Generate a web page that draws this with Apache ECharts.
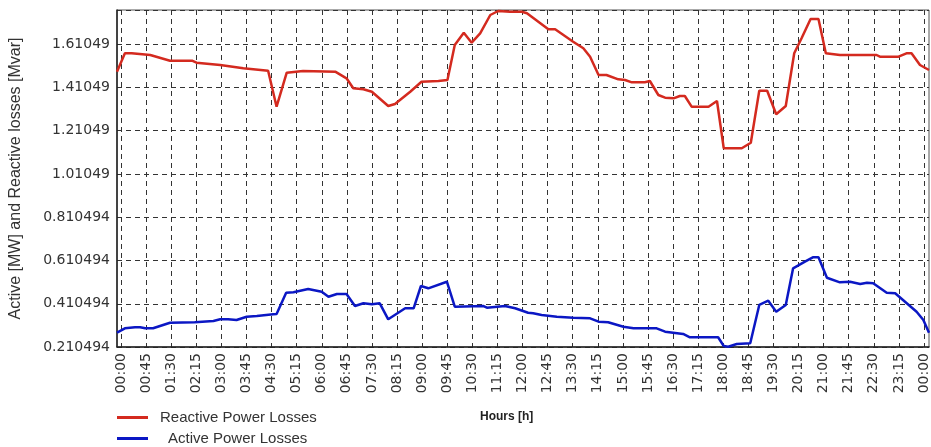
<!DOCTYPE html>
<html>
<head>
<meta charset="utf-8">
<script src="https://cdn.jsdelivr.net/npm/echarts@6/dist/echarts.min.js"></script>
<style>
  html, body { margin: 0; padding: 0; background: #fff; }
  #main { width: 931px; height: 447px; }
</style>
</head>
<body>
<div id="main"></div>
<script>
// minutes since 00:00
var reactiveTime = [0, 14, 26, 59, 94, 133, 141, 183, 224, 268, 283, 301, 330, 387, 407, 419, 437, 452, 481, 493,
  520, 540, 570, 586, 599, 615, 629, 644, 662, 676, 697, 718, 727, 765, 777, 809, 827, 839, 854, 868,
  889, 901, 913, 936, 945, 960, 972, 987, 998, 1007, 1019, 1049, 1064, 1076, 1108, 1124, 1139, 1153, 1169, 1186,
  1201, 1214, 1230, 1244, 1257, 1282, 1347, 1353, 1386, 1400, 1409, 1424, 1440]
var reactiveLoss = [1.4825, 1.5675, 1.5675, 1.5597, 1.5333, 1.5333, 1.5241, 1.5135, 1.4982, 1.4871, 1.3208, 1.4779, 1.4858, 1.4825, 1.4520, 1.4058, 1.4012, 1.3901, 1.3240, 1.3333,
  1.3901, 1.4363, 1.4395, 1.4442, 1.6059, 1.6627, 1.6165, 1.6599, 1.7445, 1.7630, 1.7597, 1.7597, 1.7524, 1.6784, 1.6784, 1.6211, 1.5906, 1.5518, 1.4673, 1.4673,
  1.4474, 1.4442, 1.4335, 1.4335, 1.4395, 1.3749, 1.3624, 1.3596, 1.3702, 1.3702, 1.3208, 1.3208, 1.3471, 1.1286, 1.1286, 1.1545, 1.3947, 1.3947, 1.2857, 1.3240,
  1.5675, 1.6368, 1.7260, 1.7260, 1.5675, 1.5597, 1.5597, 1.5518, 1.5518, 1.5675, 1.5675, 1.5135, 1.4904]

var activeTime = [0, 14, 32, 41, 50, 64, 94, 138, 171, 183, 197, 212, 230, 248, 277, 283, 300, 313, 339, 363,
  375, 390, 407, 422, 437, 452, 466, 481, 511, 526, 539, 552, 585, 599, 650, 656, 688, 706, 729, 738,
  753, 780, 809, 839, 854, 871, 898, 916, 957, 972, 1004, 1016, 1066, 1076, 1084, 1099, 1123, 1139, 1155, 1169,
  1186, 1199, 1220, 1234, 1244, 1259, 1282, 1300, 1318, 1330, 1341, 1365, 1380, 1418, 1430, 1440]
var activeLoss = [0.2766, 0.2969, 0.3015, 0.3015, 0.2969, 0.2969, 0.3228, 0.3246, 0.3306, 0.3385, 0.3385, 0.3352, 0.3505, 0.3537, 0.3616, 0.3630, 0.4614, 0.4632, 0.4785, 0.4660,
  0.4429, 0.4554, 0.4554, 0.3999, 0.4124, 0.4078, 0.4124, 0.3385, 0.3893, 0.3893, 0.4923, 0.4817, 0.5122, 0.3967, 0.3999, 0.3921, 0.3999, 0.3893, 0.3690, 0.3662,
  0.3584, 0.3505, 0.3459, 0.3431, 0.3274, 0.3246, 0.3043, 0.2969, 0.2969, 0.2812, 0.2706, 0.2553, 0.2553, 0.2151, 0.2119, 0.2244, 0.2276, 0.4046, 0.4244, 0.3736,
  0.4046, 0.5741, 0.6046, 0.6250, 0.6250, 0.5307, 0.5094, 0.5122, 0.5016, 0.5076, 0.5048, 0.4614, 0.4586, 0.3736, 0.3352, 0.2766]

var seriesNames = ['Reactive Power Losses', 'Active Power Losses']
var yMin = 0.210494
var yMax = 1.7676
var yStep = 0.2
var hourStep = 45 // minutes between x labels

function pairs(xs, ys) {
  return xs.map(function(x, i) { return [x, ys[i]] })
}
function hhmm(m) {
  m = Math.round(m) % 1440
  var h = Math.floor(m / 60)
  var mm = m % 60
  return (h < 10 ? '0' : '') + h + ':' + (mm < 10 ? '0' : '') + mm
}
// echarts rounds the tick values, put the offset back
function yLabel(v) {
  var k = Math.round((v - yMin) / yStep)
  return (yMin + k * yStep).toPrecision(6)
}
function legendAt(name, top, pad) {
  return {
    orient: 'vertical',
    left: 117,
    top: top,
    padding: 0,
    itemWidth: 31,
    itemHeight: 3,
    icon: 'rect',
    textStyle: { fontFamily: 'Liberation Sans', fontSize: 15, color: '#333', padding: [0, 0, 0, pad] },
    data: [name]
  }
}

var myChart = echarts.init(document.getElementById('main'))
var option = {
  animation: false,
  backgroundColor: '#fff',
  grid: [
    // frame + data
    { left: 117, right: 2, top: 10, bottom: 100, show: true, borderColor: '#555', borderWidth: 1 },
    // hour grid lines and labels
    { left: 121, right: 5, top: 10, bottom: 100 }
  ],
  legend: [
    legendAt(seriesNames[0], 410, 7),
    legendAt(seriesNames[1], 431, 15)
  ],
  xAxis: [
    {
      gridIndex: 0,
      type: 'value',
      min: 0,
      max: 1440,
      axisLine: { show: true, lineStyle: { color: '#222', width: 1.5 } },
      axisTick: { show: false },
      axisLabel: { show: false },
      splitLine: { show: false }
    },
    {
      gridIndex: 1,
      type: 'value',
      min: 0,
      max: 1440,
      interval: hourStep,
      axisLine: { show: false },
      axisTick: { show: false },
      axisLabel: {
        rotate: 90,
        margin: 6,
        fontFamily: 'DejaVu Sans',
        fontSize: 14,
        color: '#333',
        showMinLabel: true,
        showMaxLabel: true,
        formatter: hhmm
      },
      splitLine: { show: true, lineStyle: { color: '#333', width: 1, type: [5, 4] } }
    }
  ],
  yAxis: [
    {
      gridIndex: 0,
      type: 'value',
      min: yMin,
      max: yMax,
      interval: yStep,
      name: 'Active [MW] and Reactive losses [Mvar]',
      nameLocation: 'middle',
      nameGap: 93,
      nameTextStyle: { fontFamily: 'Liberation Sans', fontSize: 16, color: '#333' },
      axisLine: { show: true, lineStyle: { color: '#222', width: 1.5 } },
      axisTick: { show: false },
      axisLabel: {
        margin: 7,
        fontFamily: 'DejaVu Sans',
        fontSize: 14,
        color: '#333',
        showMaxLabel: false,
        formatter: yLabel
      },
      splitLine: { show: true, lineStyle: { color: '#333', width: 1, type: [5, 4] } }
    },
    {
      gridIndex: 1,
      type: 'value',
      show: false,
      splitLine: { show: false }
    }
  ],
  graphic: [
    {
      type: 'text',
      left: 480,
      top: 411,
      style: { text: 'Hours [h]', font: 'bold 12px "Liberation Sans"', fill: '#222' }
    }
  ],
  series: [
    {
      name: seriesNames[0],
      type: 'line',
      xAxisIndex: 0,
      yAxisIndex: 0,
      showSymbol: false,
      color: '#d42a1f',
      lineStyle: { width: 2.5, color: '#d42a1f' },
      data: pairs(reactiveTime, reactiveLoss)
    },
    {
      name: seriesNames[1],
      type: 'line',
      xAxisIndex: 0,
      yAxisIndex: 0,
      showSymbol: false,
      color: '#0b17c4',
      lineStyle: { width: 2.5, color: '#0b17c4' },
      data: pairs(activeTime, activeLoss)
    }
  ]
}
myChart.setOption(option)
</script>
</body>
</html>
